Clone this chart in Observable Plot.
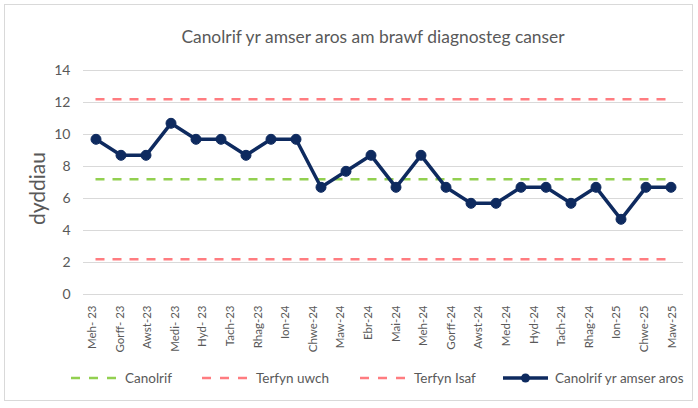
<!DOCTYPE html>
<html><head><meta charset="utf-8">
<script src="https://cdn.jsdelivr.net/npm/d3@7"></script>
<script src="https://cdn.jsdelivr.net/npm/@observablehq/plot@0.6"></script>
<style>
body{margin:0;background:#fff;font-family:Lato,"Open Sans",sans-serif;}
#wrap{position:relative;width:698px;height:408px;overflow:hidden;background:#fff;}
#frame{position:absolute;left:4px;top:4px;width:689px;height:397px;border:1px solid #d9d9d9;box-sizing:border-box;}
#chart{position:absolute;left:0;top:0;}
#title{position:absolute;left:373px;top:26px;transform:translateX(-50%);white-space:nowrap;font-size:17.4px;color:#595959;}
.leg{position:absolute;top:370px;height:16px;display:flex;align-items:center;font-size:13.5px;color:#595959;white-space:nowrap;}
.leg svg{margin-right:7px;}
</style>
</head><body>
<div id="wrap">
  <div id="frame"></div>
  <div id="chart"></div>
  <div id="title">Canolrif yr amser aros am brawf diagnosteg canser</div>
  <div id="legend"></div>
</div>
<script>
const months = ["Meh- 23","Gorff- 23","Awst-23","Medi- 23","Hyd- 23","Tach-23","Rhag-23","Ion-24","Chwe-24","Maw-24","Ebr-24","Mai-24","Meh-24","Gorff-24","Awst-24","Med-24","Hyd-24","Tach-24","Rhag-24","Ion-25","Chwe-25","Maw-25"];
const waitDays = [9.7,8.7,8.7,10.7,9.7,9.7,8.7,9.7,9.7,6.7,7.7,8.7,6.7,8.7,6.7,5.7,5.7,6.7,6.7,5.7,6.7,4.7,6.7,6.7];
const medianLine = [7.2];
const upperLimit = [12.2];
const lowerLimit = [2.2];
const yTicks = [0,2,4,6,8,10,12,14];
const seriesNames = ["Canolrif","Terfyn uwch","Terfyn Isaf","Canolrif yr amser aros"];

const navy = "#0e2a5f", green = "#92d050", red = "#ff7c80", grey = "#595959";
const lastIdx = waitDays.length - 1;
const labelStep = 23.18 / (months.length - 1);

const plot = Plot.plot({
  width: 698, height: 408,
  marginLeft: 83, marginRight: 15, marginTop: 70, marginBottom: 114,
  style: {fontFamily: "Lato, sans-serif", background: "transparent", overflow: "visible"},
  x: {domain: [-0.5, lastIdx + 0.5], axis: null},
  y: {domain: [0, 14], axis: null},
  marks: [
    Plot.gridY(yTicks, {stroke: "#d9d9d9", strokeOpacity: 1, strokeWidth: 1}),
    Plot.axisY(yTicks, {tickSize: 0, tickPadding: 13, fontSize: 14, fill: grey, label: null}),
    Plot.text(months, {x: (d, i) => i * labelStep, frameAnchor: "bottom", dy: 11, rotate: -90, textAnchor: "end", fontSize: 11.5, fill: grey}),
    Plot.text(["dyddiau"], {frameAnchor: "left", textAnchor: "middle", dx: -45, dy: 6, rotate: -90, fontSize: 21, fill: grey}),
    Plot.ruleY(medianLine, {y: d => d, x1: () => 0, x2: () => lastIdx, stroke: green, strokeWidth: 2.5, strokeDasharray: "9,8"}),
    Plot.ruleY(upperLimit, {y: d => d, x1: () => 0, x2: () => lastIdx, stroke: red, strokeWidth: 2.5, strokeDasharray: "9,8"}),
    Plot.ruleY(lowerLimit, {y: d => d, x1: () => 0, x2: () => lastIdx, stroke: red, strokeWidth: 2.5, strokeDasharray: "9,8"}),
    Plot.line(waitDays, {x: (d, i) => i, y: d => d, stroke: navy, strokeWidth: 3.5}),
    Plot.dot(waitDays, {x: (d, i) => i, y: d => d, r: 5, fill: navy, stroke: navy, strokeWidth: 1})
  ]
});
document.getElementById("chart").appendChild(plot);

const legendItems = [
  {name: seriesNames[0], color: green, dash: true, left: 71},
  {name: seriesNames[1], color: red, dash: true, left: 202},
  {name: seriesNames[2], color: red, dash: true, left: 360},
  {name: seriesNames[3], color: navy, dash: false, left: 503}
];
const legend = document.getElementById("legend");
for (const it of legendItems) {
  const div = document.createElement("div");
  div.className = "leg";
  div.style.left = it.left + "px";
  const sw = it.dash
    ? `<svg width="47" height="10"><line x1="0" y1="5" x2="47" y2="5" stroke="${it.color}" stroke-width="2.5" stroke-dasharray="9,9"/></svg>`
    : `<svg width="45" height="10"><line x1="0" y1="5" x2="45" y2="5" stroke="${it.color}" stroke-width="3.5"/><circle cx="22.5" cy="5" r="4.5" fill="${it.color}"/></svg>`;
  div.innerHTML = sw + `<span>${it.name}</span>`;
  legend.appendChild(div);
}
</script>
</body></html>
